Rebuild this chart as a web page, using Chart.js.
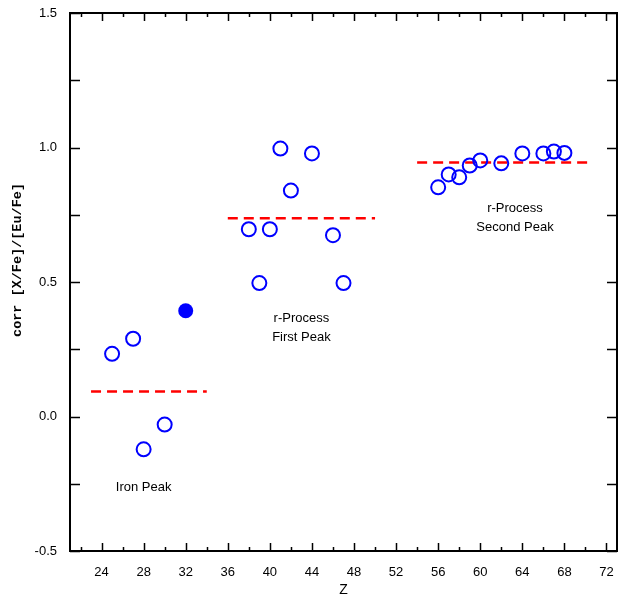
<!DOCTYPE html>
<html>
<head>
<meta charset="utf-8">
<script src="https://cdn.jsdelivr.net/npm/chart.js@4"></script>
<style>
  html, body { margin: 0; padding: 0; background: #fff; }
  #wrap { width: 618px; height: 598px; }
</style>
</head>
<body>
<div id="wrap"><canvas id="c" width="618" height="598"></canvas></div>
<script>
// 元素序数 Z 与相关系数
const openZ   = [25, 27, 28, 30, 38, 39, 40, 41, 42, 44, 46, 47, 56, 57, 58, 59, 60, 62, 64, 66, 67, 68];
const openVal = [0.233, 0.289, -0.122, -0.030, 0.696, 0.496, 0.696, 0.996, 0.840, 0.978, 0.674, 0.496,
                 0.852, 0.900, 0.889, 0.933, 0.952, 0.941, 0.978, 0.978, 0.985, 0.980];
const filledZ   = [32];
const filledVal = [0.393];

// 各峰的平均水平（红色虚线）
const meanFrom  = [23, 36, 54];
const meanTo    = [34, 50, 70.3];
const meanLevel = [0.093, 0.737, 0.944];

// 刻度
const xTickValues = [22, 24, 26, 28, 30, 32, 34, 36, 38, 40, 42, 44, 46, 48, 50, 52, 54, 56, 58, 60, 62, 64, 66, 68, 70, 72];
const xTickLabels = ['', '24', '', '28', '', '32', '', '36', '', '40', '', '44', '', '48', '', '52', '', '56', '', '60', '', '64', '', '68', '', '72'];
const yTickValues = [-0.5, -0.25, 0, 0.25, 0.5, 0.75, 1, 1.25, 1.5];
const yTickLabels = ['-0.5', '', '0.0', '', '0.5', '', '1.0', '', '1.5'];

// 文字注释（数据坐标）
const noteX = [28.0, 43.0, 63.3];
const noteY = [-0.263, 0.33, 0.74];
const noteText = [['Iron Peak'], ['r-Process', 'First Peak'], ['r-Process', 'Second Peak']];

const SANS = '"Liberation Sans", Arial, Helvetica, sans-serif';

function toPoints(xs, ys) {
    return xs.map((x, i) => ({ x: x, y: ys[i] }));
}

const datasets = [
    {
        data: toPoints(openZ, openVal),
        pointRadius: 7,
        pointBorderWidth: 2,
        pointBorderColor: '#0000ff',
        pointBackgroundColor: 'rgba(0,0,0,0)',
        showLine: false
    },
    {
        data: toPoints(filledZ, filledVal),
        pointRadius: 7.5,
        pointBorderWidth: 0,
        pointBackgroundColor: '#0000ff',
        showLine: false
    }
];
meanLevel.forEach((lv, i) => {
    datasets.push({
        data: [{ x: meanFrom[i], y: lv }, { x: meanTo[i], y: lv }],
        showLine: true,
        borderColor: '#ff0000',
        borderWidth: 2.5,
        borderDash: [10, 6],
        pointRadius: 0
    });
});

// 去掉刻度标签带来的额外留白
function noPad(scale) {
    scale.paddingLeft = 0;
    scale.paddingRight = 0;
    scale.paddingTop = 0;
    scale.paddingBottom = 0;
}

// 画框、向内的刻度、标题和注释
const framePlugin = {
    id: 'frame',
    afterDraw(chart) {
        const ctx = chart.ctx;
        const a = chart.chartArea;
        const xs = chart.scales.x, ys = chart.scales.y;
        ctx.save();
        ctx.strokeStyle = '#000';
        ctx.lineWidth = 1.5;
        xTickValues.forEach((v, i) => {
            const px = Math.round(xs.getPixelForValue(v)) + 0.5;
            const len = xTickLabels[i] ? 8 : 4;
            ctx.beginPath();
            ctx.moveTo(px, a.bottom); ctx.lineTo(px, a.bottom - len);
            ctx.moveTo(px, a.top); ctx.lineTo(px, a.top + len);
            ctx.stroke();
        });
        yTickValues.forEach((v, i) => {
            const py = Math.round(ys.getPixelForValue(v)) + 0.5;
            const len = 10;
            ctx.beginPath();
            ctx.moveTo(a.left, py); ctx.lineTo(a.left + len, py);
            ctx.moveTo(a.right, py); ctx.lineTo(a.right - len, py);
            ctx.stroke();
        });
        ctx.lineWidth = 2;
        ctx.strokeRect(a.left, a.top, a.right - a.left, a.bottom - a.top);

        ctx.fillStyle = '#000';
        ctx.textAlign = 'center';
        ctx.textBaseline = 'middle';
        ctx.font = '13px ' + SANS;
        noteText.forEach((lines, i) => {
            const px = xs.getPixelForValue(noteX[i]);
            const py = ys.getPixelForValue(noteY[i]);
            lines.forEach((t, j) => {
                ctx.fillText(t, px, py + (j - (lines.length - 1) / 2) * 19);
            });
        });

        ctx.font = '14px ' + SANS;
        ctx.fillText('Z', (a.left + a.right) / 2, 590);

        ctx.translate(18, 260);
        ctx.rotate(-Math.PI / 2);
        ctx.font = 'bold 13.5px "Liberation Mono", "Courier New", monospace';
        ctx.fillText('corr [X/Fe]/[Eu/Fe]', 0, 0);
        ctx.restore();
    }
};

new Chart(document.getElementById('c'), {
    type: 'scatter',
    data: { datasets: datasets },
    options: {
        responsive: false,
        animation: false,
        devicePixelRatio: 1,
        layout: { autoPadding: false, padding: { left: 0, top: 13, right: 1, bottom: 0 } },
        plugins: { legend: { display: false }, tooltip: { enabled: false } },
        scales: {
            x: {
                type: 'linear',
                min: 21,
                max: 73,
                afterBuildTicks(scale) {
                    scale.ticks = xTickValues.map(v => ({ value: v }));
                },
                afterFit(scale) { scale.height = 47; noPad(scale); },
                grid: { display: false, drawTicks: false },
                border: { display: false },
                ticks: {
                    autoSkip: false,
                    maxRotation: 0,
                    padding: 14,
                    color: '#000',
                    font: { family: SANS, size: 13 },
                    callback: (v, i) => xTickLabels[i]
                }
            },
            y: {
                type: 'linear',
                min: -0.5,
                max: 1.5,
                afterBuildTicks(scale) {
                    scale.ticks = yTickValues.map(v => ({ value: v }));
                },
                afterFit(scale) { scale.width = 70; noPad(scale); },
                grid: { display: false, drawTicks: false },
                border: { display: false },
                ticks: {
                    autoSkip: false,
                    padding: 13,
                    color: '#000',
                    font: { family: SANS, size: 13 },
                    callback: (v, i) => yTickLabels[i]
                }
            }
        }
    },
    plugins: [framePlugin]
});
</script>
</body>
</html>
